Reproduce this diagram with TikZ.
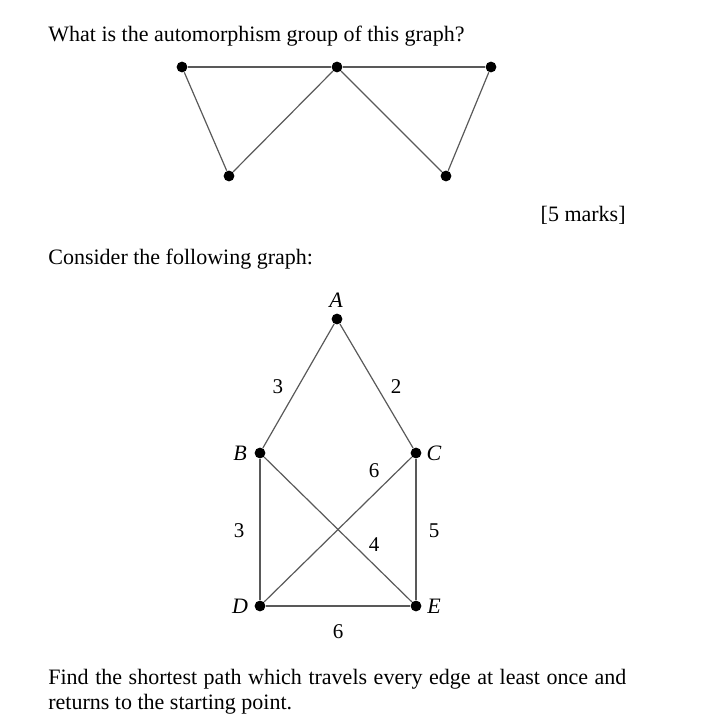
\documentclass[tikz,border=0pt]{standalone}
\usepackage{fontspec}
\setmainfont{Liberation Serif}
\usetikzlibrary{positioning}

\begin{document}
\begin{tikzpicture}[
        x=0.5pt, y=-0.5pt,
        vertex/.style={circle, fill=black, inner sep=0pt, minimum size=5.4pt},
        edge/.style={draw=black!65, line width=0.6pt},
        txt/.style={font=\fontsize{11}{13}\selectfont, inner sep=0pt},
        vlabel/.style={font=\fontsize{11}{13}\selectfont\itshape, inner sep=0pt},
        wlabel/.style={font=\fontsize{10.5}{12}\selectfont, inner sep=0pt},
    ]
        \useasboundingbox (0,0) rectangle (725,721);

        % Question text
        \node[txt, anchor=west] (q1) at (48,36) {What is the automorphism group of this graph?};
        \node[txt, anchor=east] (marks) at (626,215) {[5 marks]};
        \node[txt, anchor=west] (q2) at (48,259) {Consider the following graph:};
        \node[txt, anchor=west] (q3a) at (48,679) {\makebox[289pt][s]{Find the shortest path which travels every edge at least once and}};
        \node[txt, anchor=west] (q3b) at (48,704) {returns to the starting point.};

        % First graph
        \node[vertex] (u1) at (182,67) {};
        \node[vertex] (u2) at (337,67) {};
        \node[vertex] (u3) at (491,67) {};
        \node[vertex] (u4) at (229,176) {};
        \node[vertex] (u5) at (446,176) {};
        \draw[edge] (u1) -- (u2) -- (u3);
        \draw[edge] (u1) -- (u4) -- (u2) -- (u5) -- (u3);

        % Second graph
        \node[vertex] (a) at (337,319) {};
        \node[vertex] (b) at (260,453) {};
        \node[vertex] (c) at (416,453) {};
        \node[vertex] (d) at (260,606) {};
        \node[vertex] (e) at (416,606) {};
        \node[vlabel] at (336,300) {A};
        \node[vlabel] at (240,453) {B};
        \node[vlabel] at (434,453) {C};
        \node[vlabel] at (240,606) {D};
        \node[vlabel] at (434,606) {E};

        \draw[edge] (a) -- (b);
        \draw[edge] (a) -- (c);
        \draw[edge] (b) -- (d);
        \draw[edge] (c) -- (e);
        \draw[edge] (d) -- (e);
        \draw[edge] (b) -- (e);
        \draw[edge] (c) -- (d);

        % Weights
        \node[wlabel] at (278,387) {3};
        \node[wlabel] at (396,387) {2};
        \node[wlabel] at (374,471) {6};
        \node[wlabel] at (374,545) {4};
        \node[wlabel] at (239,531) {3};
        \node[wlabel] at (434,531) {5};
        \node[wlabel] at (338,632) {6};
    \end{tikzpicture}
\end{document}
